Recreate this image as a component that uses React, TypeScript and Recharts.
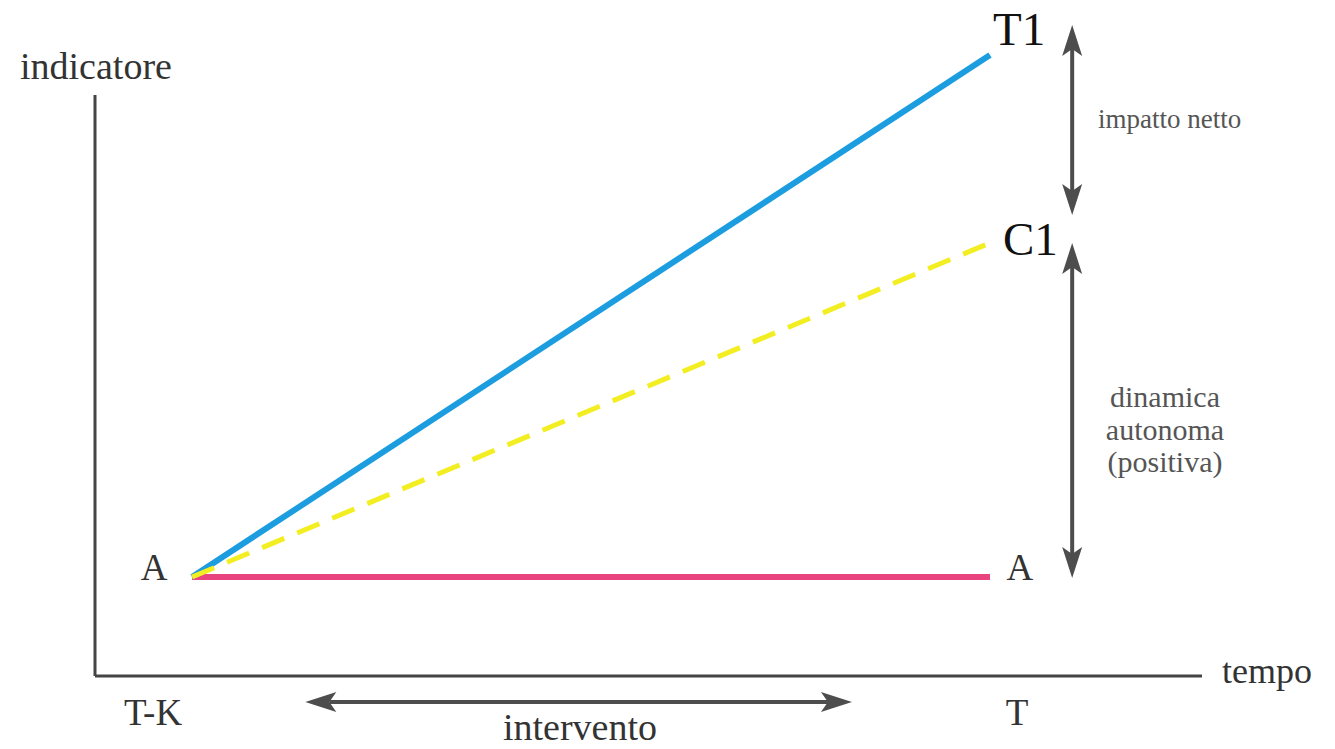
import React from 'react';
import { LineChart, Line, XAxis, YAxis, ReferenceLine, LabelList } from 'recharts';

// time points: T-K (start) and T (end of the intervention)
const times = [0, 1];
const tickLabels = ['T-K', 'T'];

// indicator values
const treated = [0, 10];          // T1
const counterfactual = [0, 6.4];  // C1
const baseline = [0, 0];          // A

// annotation arrows (data units)
const arrowX = 1.103;
const impactArrow = [10.575, 6.935];
const autonomyArrow = [6.398, -0.02];
const interventionArrow = [0.142, 0.827];
const interventionY = -2.395;

const X_DOMAIN = [-0.1216, 1.2657];
const Y_DOMAIN = [-1.897, 10.67];

const SERIF = '"Liberation Serif", "Times New Roman", serif';
const AXIS = '#444';
const ARROW = '#4d4d4d';
const GREY_TEXT = '#555';

const data = times.map((t, i) => ({
  t,
  treated: treated[i],
  counterfactual: counterfactual[i],
  baseline: baseline[i],
}));

// double-headed arrow drawn from the reference segment ends
function DoubleArrow(props: any) {
  const { x1, y1, x2, y2 } = props;
  const dx = x2 - x1;
  const dy = y2 - y1;
  const len = Math.sqrt(dx * dx + dy * dy) || 1;
  const ux = dx / len;
  const uy = dy / len;
  const px = -uy;
  const py = ux;
  const L = 31;
  const W = 10;
  const notch = 7;
  const head = (tx: number, ty: number, dir: number) => {
    const bx = tx + dir * ux * L;
    const by = ty + dir * uy * L;
    const nx = tx + dir * ux * (L - notch);
    const ny = ty + dir * uy * (L - notch);
    return `${tx},${ty} ${bx + px * W},${by + py * W} ${nx},${ny} ${bx - px * W},${by - py * W}`;
  };
  return (
    <g>
      <line
        x1={x1 + ux * (L - notch)}
        y1={y1 + uy * (L - notch)}
        x2={x2 - ux * (L - notch)}
        y2={y2 - uy * (L - notch)}
        stroke={ARROW}
        strokeWidth={4}
      />
      <polygon points={head(x1, y1, 1)} fill={ARROW} />
      <polygon points={head(x2, y2, -1)} fill={ARROW} />
    </g>
  );
}

function TimeTick(props: any) {
  const { x, y, payload, index } = props;
  const offsets = [-39, 27];
  return (
    <text
      x={x + (offsets[index] ?? 0)}
      y={y + 49}
      textAnchor="middle"
      fontFamily={SERIF}
      fontSize={37}
      fill="#333"
    >
      {tickLabels[times.indexOf(payload.value)]}
    </text>
  );
}

const endLabel = (text: string, dx: number, dy: number) => (p: any) =>
  p.index === 1 ? (
    <text x={p.x + dx} y={p.y + dy} fontFamily={SERIF} fontSize={47} fill="#111">
      {text}
    </text>
  ) : null;

const baselineLabel = (p: any) => (
  <text
    x={p.x + (p.index === 0 ? -38 : 30)}
    y={p.y + 3}
    textAnchor="middle"
    fontFamily={SERIF}
    fontSize={37}
    fill="#333"
  >
    A
  </text>
);

export default function App() {
  return (
    <div style={{ position: 'absolute', left: 0, top: 0, width: 1335, height: 749, background: '#fff' }}>
      <LineChart width={1335} height={749} data={data} margin={{ top: 20, right: 133, bottom: 23, left: 95 }}>
        <XAxis
          dataKey="t"
          type="number"
          domain={X_DOMAIN}
          ticks={times}
          height={50}
          axisLine={{ stroke: AXIS, strokeWidth: 3 }}
          tickLine={false}
          tickSize={0}
          tickMargin={0}
          tick={<TimeTick />}
        />
        <YAxis hide type="number" domain={Y_DOMAIN} />

        {/* vertical axis */}
        <ReferenceLine
          segment={[{ x: X_DOMAIN[0], y: Y_DOMAIN[0] }, { x: X_DOMAIN[0], y: 9.234 }]}
          stroke={AXIS}
          strokeWidth={3}
          ifOverflow="visible"
        />

        <Line type="linear" dataKey="baseline" stroke="#e8457f" strokeWidth={6} dot={false} isAnimationActive={false}>
          <LabelList dataKey="baseline" content={baselineLabel} />
        </Line>
        <Line type="linear" dataKey="treated" stroke="#1c9de0" strokeWidth={6} dot={false} isAnimationActive={false}>
          <LabelList dataKey="treated" content={endLabel('T1', 3, -10)} />
        </Line>
        <Line
          type="linear"
          dataKey="counterfactual"
          stroke="#f2ee22"
          strokeWidth={5}
          strokeDasharray="24 14"
          dot={false}
          isAnimationActive={false}
        >
          <LabelList dataKey="counterfactual" content={endLabel('C1', 13, 12)} />
        </Line>

        <ReferenceLine
          segment={[{ x: arrowX, y: impactArrow[0] }, { x: arrowX, y: impactArrow[1] }]}
          ifOverflow="visible"
          shape={DoubleArrow}
        />
        <ReferenceLine
          segment={[{ x: arrowX, y: autonomyArrow[0] }, { x: arrowX, y: autonomyArrow[1] }]}
          ifOverflow="visible"
          shape={DoubleArrow}
        />
        <ReferenceLine
          segment={[
            { x: interventionArrow[0], y: interventionY },
            { x: interventionArrow[1], y: interventionY },
          ]}
          ifOverflow="visible"
          shape={DoubleArrow}
        />

        <text x={20} y={79} fontFamily={SERIF} fontSize={38} fill="#333">indicatore</text>
        <text x={1222} y={683} fontFamily={SERIF} fontSize={36} fill="#333">tempo</text>
        <text x={580} y={740} textAnchor="middle" fontFamily={SERIF} fontSize={38} fill="#333">intervento</text>
        <text x={1098} y={128} fontFamily={SERIF} fontSize={27} fill={GREY_TEXT}>impatto netto</text>
        <text textAnchor="middle" fontFamily={SERIF} fontSize={30} fill={GREY_TEXT}>
          <tspan x={1165} y={407}>dinamica</tspan>
          <tspan x={1165} y={440}>autonoma</tspan>
          <tspan x={1165} y={472}>(positiva)</tspan>
        </text>
      </LineChart>
    </div>
  );
}
